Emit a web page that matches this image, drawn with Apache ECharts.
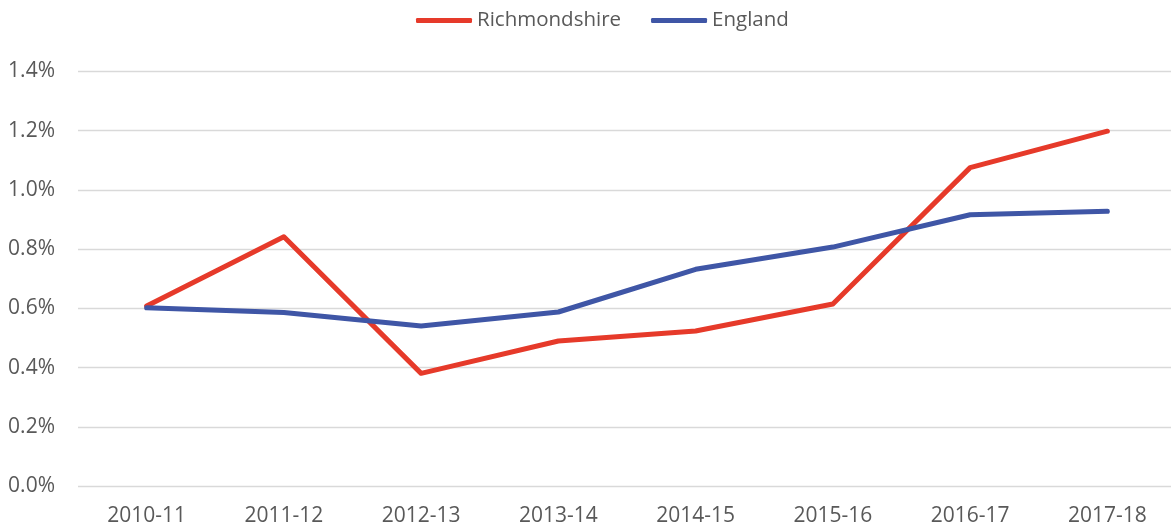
<!DOCTYPE html>
<html>
<head>
<meta charset="utf-8">
<script src="https://cdn.jsdelivr.net/npm/echarts@6/dist/echarts.min.js"></script>
<style>
  html, body { margin: 0; padding: 0; background: #fff; overflow: hidden; }
  #chart { width: 1176px; height: 532px; }
</style>
</head>
<body>
<div id="chart"></div>
<script>
// years on the x axis
var years = ['2010-11', '2011-12', '2012-13', '2013-14', '2014-15', '2015-16', '2016-17', '2017-18'];
// values in percent
var richmondshire = [0.608, 0.842, 0.381, 0.490, 0.524, 0.615, 1.075, 1.198];
var england = [0.602, 0.586, 0.541, 0.588, 0.732, 0.807, 0.916, 0.928];

var textColor = '#595959';
var font = '"Open Sans", "Noto Sans", sans-serif';

var myChart = echarts.init(document.getElementById('chart'));
myChart.setOption({
    animation: false,
    legend: {
        top: 5,
        left: 411,
        icon: 'roundRect',
        itemWidth: 56,
        itemHeight: 5,
        itemGap: 30,
        textStyle: { color: textColor, fontSize: 20.5, fontFamily: font },
        data: ['Richmondshire', 'England']
    },
    grid: {
        left: 78,
        right: 0,
        top: 71.3,
        bottom: 45.7,
        containLabel: false
    },
    xAxis: {
        type: 'category',
        data: years,
        boundaryGap: true,
        axisLine: { show: false },
        axisTick: { show: false },
        axisLabel: { color: textColor, fontSize: 21, fontFamily: font, margin: 19 }
    },
    yAxis: {
        type: 'value',
        min: 0,
        max: 1.4,
        interval: 0.2,
        axisLine: { show: false },
        axisTick: { show: false },
        splitLine: { lineStyle: { color: '#d9d9d9', width: 1.3 } },
        axisLabel: {
            color: textColor, fontSize: 21, fontFamily: font, margin: 23,
            formatter: function (v) { return v.toFixed(1) + '%'; }
        }
    },
    series: [
        {
            name: 'Richmondshire',
            type: 'line',
            data: richmondshire,
            symbol: 'none',
            color: '#e63a2a',
            lineStyle: { width: 5, cap: 'round', join: 'round' }
        },
        {
            name: 'England',
            type: 'line',
            data: england,
            symbol: 'none',
            color: '#3f56a6',
            lineStyle: { width: 5, cap: 'round', join: 'round' }
        }
    ]
});
</script>
</body>
</html>
